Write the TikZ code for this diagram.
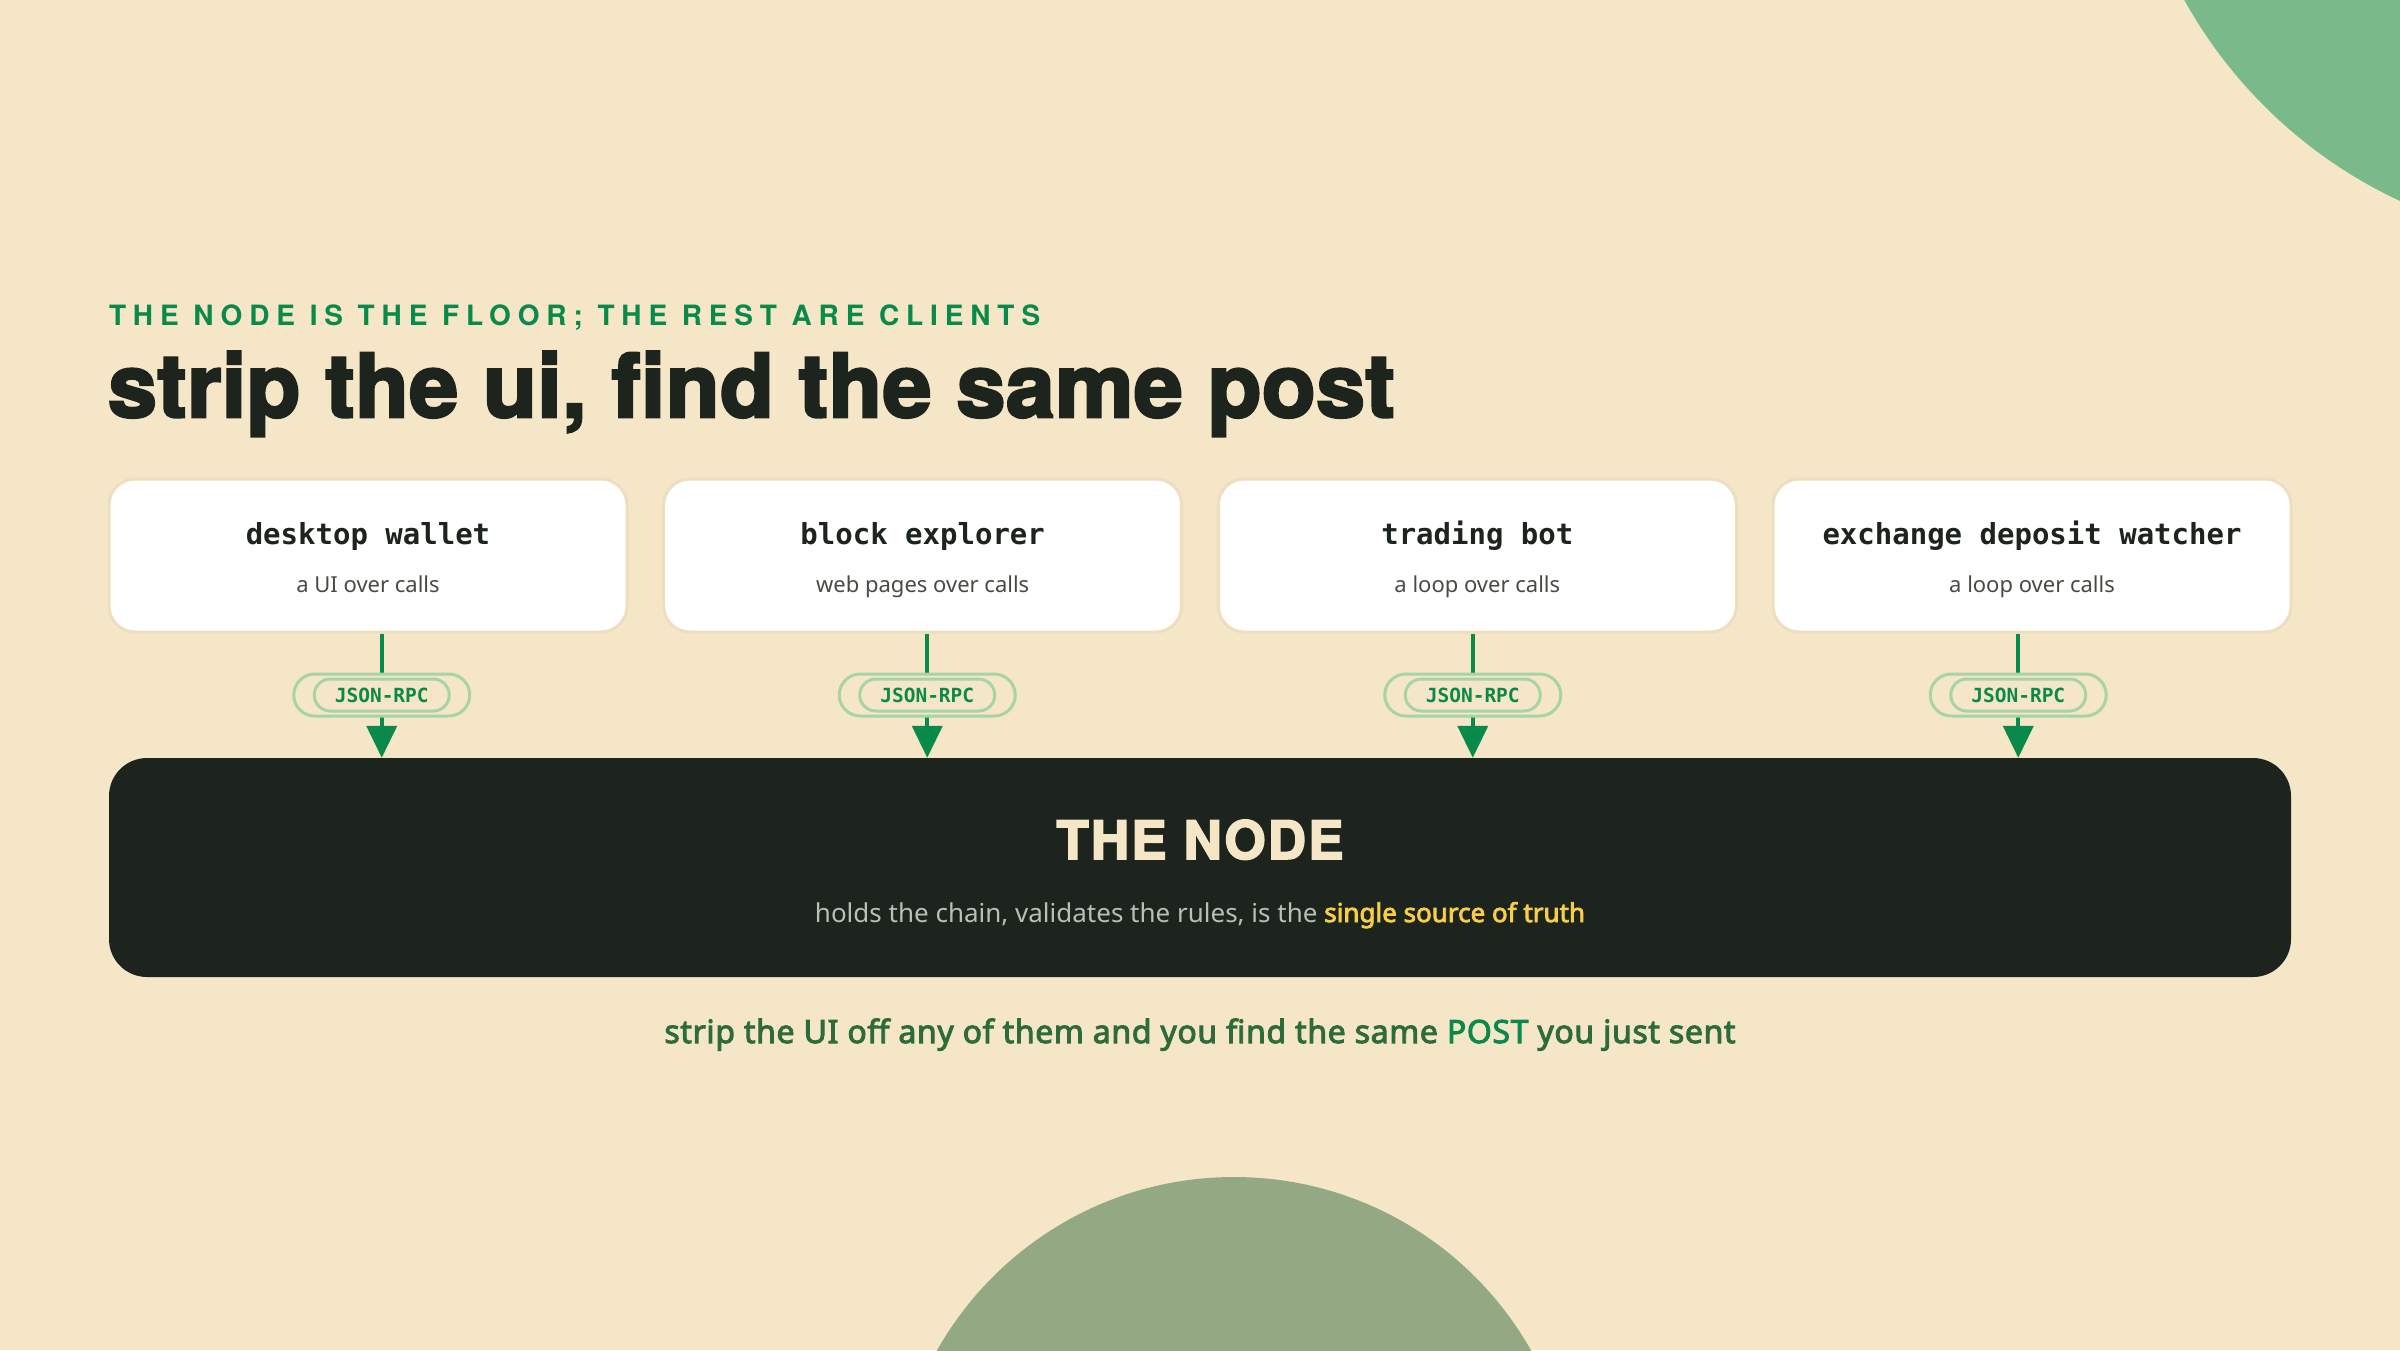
\documentclass[tikz,border=0pt]{standalone}
\usepackage{fontspec}
\usetikzlibrary{arrows.meta}
\setmainfont{Noto Sans}
\newfontfamily\boldsans[FakeBold=3]{Noto Sans}
\newfontfamily\footsans[FakeBold=3,LetterSpace=2]{Noto Sans}
\newfontfamily\kickerfont[LetterSpace=24.5]{TeX Gyre Heros}
\newfontfamily\heavyfont[FakeBold=3,LetterSpace=0.5]{TeX Gyre Heros}
\newfontfamily\nodefont[FakeBold=3,LetterSpace=4]{TeX Gyre Heros}
\newfontfamily\cardmono{DejaVu Sans Mono}
\definecolor{bg}{HTML}{F5E6C8}
\definecolor{ink}{HTML}{1C241D}
\definecolor{kgreen}{HTML}{0A8A4A}
\definecolor{leaf}{HTML}{7ABA8A}
\definecolor{sage}{HTML}{93A983}
\definecolor{cardline}{HTML}{ECDFC0}
\definecolor{pillline}{HTML}{A8D3A4}
\definecolor{subgray}{HTML}{4A4A45}
\definecolor{descgray}{HTML}{B9BFB4}
\definecolor{gold}{HTML}{F7CE46}
\definecolor{darkgreen}{HTML}{2E6B3A}
\definecolor{cream}{HTML}{F5E6C8}
\begin{document}
\begin{tikzpicture}[x=1pt,y=-1pt,
  txt/.style={inner sep=0pt, outer sep=0pt},
  kicker/.style={txt, text=kgreen, font={\kickerfont\bfseries\fontsize{28}{34}\selectfont}},
  headline/.style={txt, text=ink, font={\heavyfont\bfseries\fontsize{88}{100}\selectfont}},
  card/.style={draw=cardline, line width=3pt, fill=white, rounded corners=26pt, minimum width=518pt, minimum height=153pt, inner sep=0pt},
  cardtitle/.style={txt, text=ink, font={\cardmono\bfseries\fontsize{29}{34}\selectfont}},
  cardsub/.style={txt, text=subgray, font={\fontsize{22}{26}\selectfont}},
  core/.style={fill=ink, rounded corners=38pt, minimum width=2182pt, minimum height=219pt, inner sep=0pt},
  coretitle/.style={txt, text=cream, font={\nodefont\bfseries\fontsize{53}{60}\selectfont}},
  coredesc/.style={txt, text=descgray, font={\fontsize{26}{30}\selectfont}},
  flow/.style={draw=kgreen, line width=4pt, -{Triangle[width=30pt,length=32pt]}},
  pillout/.style={draw=pillline, line width=3pt, fill=bg, rounded corners=21pt, minimum width=176pt, minimum height=42pt, inner sep=0pt},
  pillin/.style={draw=pillline, line width=3pt, rounded corners=16pt, minimum width=135pt, minimum height=32pt, inner sep=0pt, text=kgreen, font={\cardmono\bfseries\fontsize{19.5}{22}\selectfont}},
  foot/.style={txt, text=darkgreen, font={\footsans\fontsize{32}{36}\selectfont}}
]
\useasboundingbox (0,0) rectangle (2400,1350);
\fill[bg] (0,0) rectangle (2400,1350);
\begin{scope}
  \clip (0,0) rectangle (2400,1350);
  \fill[leaf] (2600,-230) circle[radius=475];
  \fill[sage] (1234,1518) circle[radius=341];
\end{scope}

\node[kicker, anchor=base west] (kick) at (109,325) {THE NODE IS THE FLOOR; THE REST ARE CLIENTS};
\node[headline, anchor=base west] (ttl) at (108,417) {strip the ui, find the same post};

\node[card] (c1) at (368,555.5) {};
\node[card] (c2) at (922.7,555.5) {};
\node[card] (c3) at (1477.3,555.5) {};
\node[card] (c4) at (2032,555.5) {};

\node[cardtitle, anchor=base] (c1t) at (368,544) {desktop wallet};
\node[cardtitle, anchor=base] (c2t) at (922.7,544) {block explorer};
\node[cardtitle, anchor=base] (c3t) at (1477.3,544) {trading bot};
\node[cardtitle, anchor=base] (c4t) at (2032,544) {exchange deposit watcher};

\node[cardsub, anchor=base] (c1s) at (368,592) {a UI over calls};
\node[cardsub, anchor=base] (c2s) at (922.7,592) {web pages over calls};
\node[cardsub, anchor=base] (c3s) at (1477.3,592) {a loop over calls};
\node[cardsub, anchor=base] (c4s) at (2032,592) {a loop over calls};

\node[core] (core) at (1200,867.5) {};
\node[coretitle, anchor=base] (coret) at (1200,859) {THE NODE};
\node[coredesc, anchor=base] (cored) at (1200,922) {holds the chain, validates the rules, is the {\boldsans\color{gold}single source of truth}};

\coordinate (x1) at (381.75,0);
\coordinate (x2) at (927.25,0);
\coordinate (x3) at (1472.75,0);
\coordinate (x4) at (2018.25,0);

\draw[flow] (c1.south -| x1) -- (core.north -| x1);
\draw[flow] (c2.south -| x2) -- (core.north -| x2);
\draw[flow] (c3.south -| x3) -- (core.north -| x3);
\draw[flow] (c4.south -| x4) -- (core.north -| x4);

\node[pillout] (p1) at (381.75,695) {};
\node[pillin] (p1t) at (381.75,695) {JSON-RPC};
\node[pillout] (p2) at (927.25,695) {};
\node[pillin] (p2t) at (927.25,695) {JSON-RPC};
\node[pillout] (p3) at (1472.75,695) {};
\node[pillin] (p3t) at (1472.75,695) {JSON-RPC};
\node[pillout] (p4) at (2018.25,695) {};
\node[pillin] (p4t) at (2018.25,695) {JSON-RPC};

\node[foot, anchor=base] (footline) at (1200,1043) {strip the UI off any of them and you find the same {\color{kgreen}POST} you just sent};
\end{tikzpicture}
\end{document}
